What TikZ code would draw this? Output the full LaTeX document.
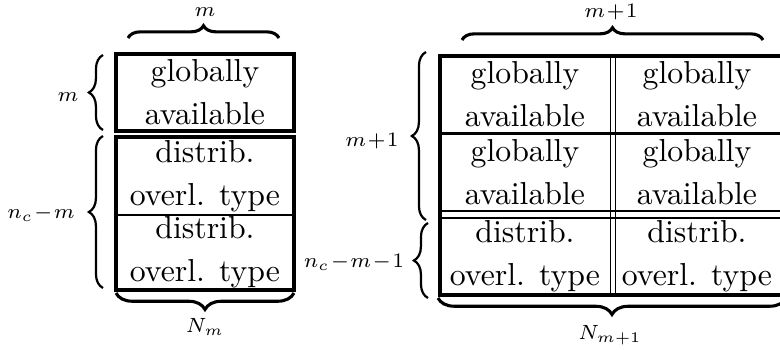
\documentclass[tikz,border=0pt]{standalone}
\usetikzlibrary{decorations.pathreplacing}
\begin{document}
\begin{tikzpicture}[x=0.34pt,y=-0.34pt,
  frame/.style={line width=1.1pt},
  rowrule/.style={line width=1pt},
  thinrule/.style={line width=0.65pt},
  cell/.style={align=center,inner sep=0pt,font=\fontsize{10.8}{14.6}\selectfont},
  lbl/.style={inner sep=0pt,font=\scriptsize},
  hbrace/.style={decorate,decoration={brace,amplitude=4.2pt},line width=1.05pt},
  lowbrace/.style={decorate,decoration={brace,amplitude=5.6pt},line width=1.05pt},
  vbrace/.style={decorate,decoration={brace,amplitude=4.8pt},line width=0.75pt}]
\useasboundingbox (0,0) rectangle (780,349);
\clip (0,0) rectangle (780,349);

% ---- left table: N_m ----
\draw[frame] (116,54) rectangle (294,131);
\draw[frame] (116,137) rectangle (294,290);
\draw[rowrule] (116,215) -- (294,215);
\node[cell] (lg) at (205,92.5) {globally\\available};
\node[cell] (ld1) at (205,176) {distrib.\\overl. type};
\node[cell] (ld2) at (205,252) {distrib.\\overl. type};

% ---- right table: N_{m+1} ----
\draw[frame] (786,56) -- (440,56) -- (440,295) -- (786,295);
\draw[rowrule] (440,133.5) -- (786,133.5);
\draw[thinrule] (440,211) -- (786,211);
\draw[thinrule] (440,218) -- (786,218);
\draw[thinrule] (610.5,56) -- (610.5,295);
\draw[thinrule] (615.5,56) -- (615.5,295);
\node[cell] (rg11) at (525,94.5) {globally\\available};
\node[cell] (rg12) at (697,94.5) {globally\\available};
\node[cell] (rg21) at (525,172) {globally\\available};
\node[cell] (rg22) at (697,172) {globally\\available};
\node[cell] (rd1) at (525,256) {distrib.\\overl. type};
\node[cell] (rd2) at (697,256) {distrib.\\overl. type};

% ---- braces ----
\draw[hbrace] (128,38) -- (279,38);
\draw[hbrace] (462,40) -- (763,40);
\draw[lowbrace] (294,293) -- (116,293);
\draw[lowbrace] (786,298) -- (438,298);
\draw[vbrace] (103,130) -- (103,55);
\draw[vbrace] (103,288) -- (103,136);
\draw[vbrace] (426,220) -- (426,52);
\draw[vbrace] (428,298) -- (428,223);

% ---- brace labels ----
\node[lbl] (tm) at (205,12) {$m$};
\node[lbl] (tm1) at (611,12) {$m\!+\!1$};
\node[lbl] (sm) at (68,97) {$m$};
\node[lbl] (snm) at (41,214) {$n_c\!-\!m$};
\node[lbl] (sm1) at (372,141) {$m\!+\!1$};
\node[lbl] (snm1) at (354,262) {$n_c\!-\!m\!-\!1$};
\node[lbl] (bn) at (205,327) {$N_m$};
\node[lbl] (bn1) at (610,335) {$N_{m+1}$};
\end{tikzpicture}
\end{document}
